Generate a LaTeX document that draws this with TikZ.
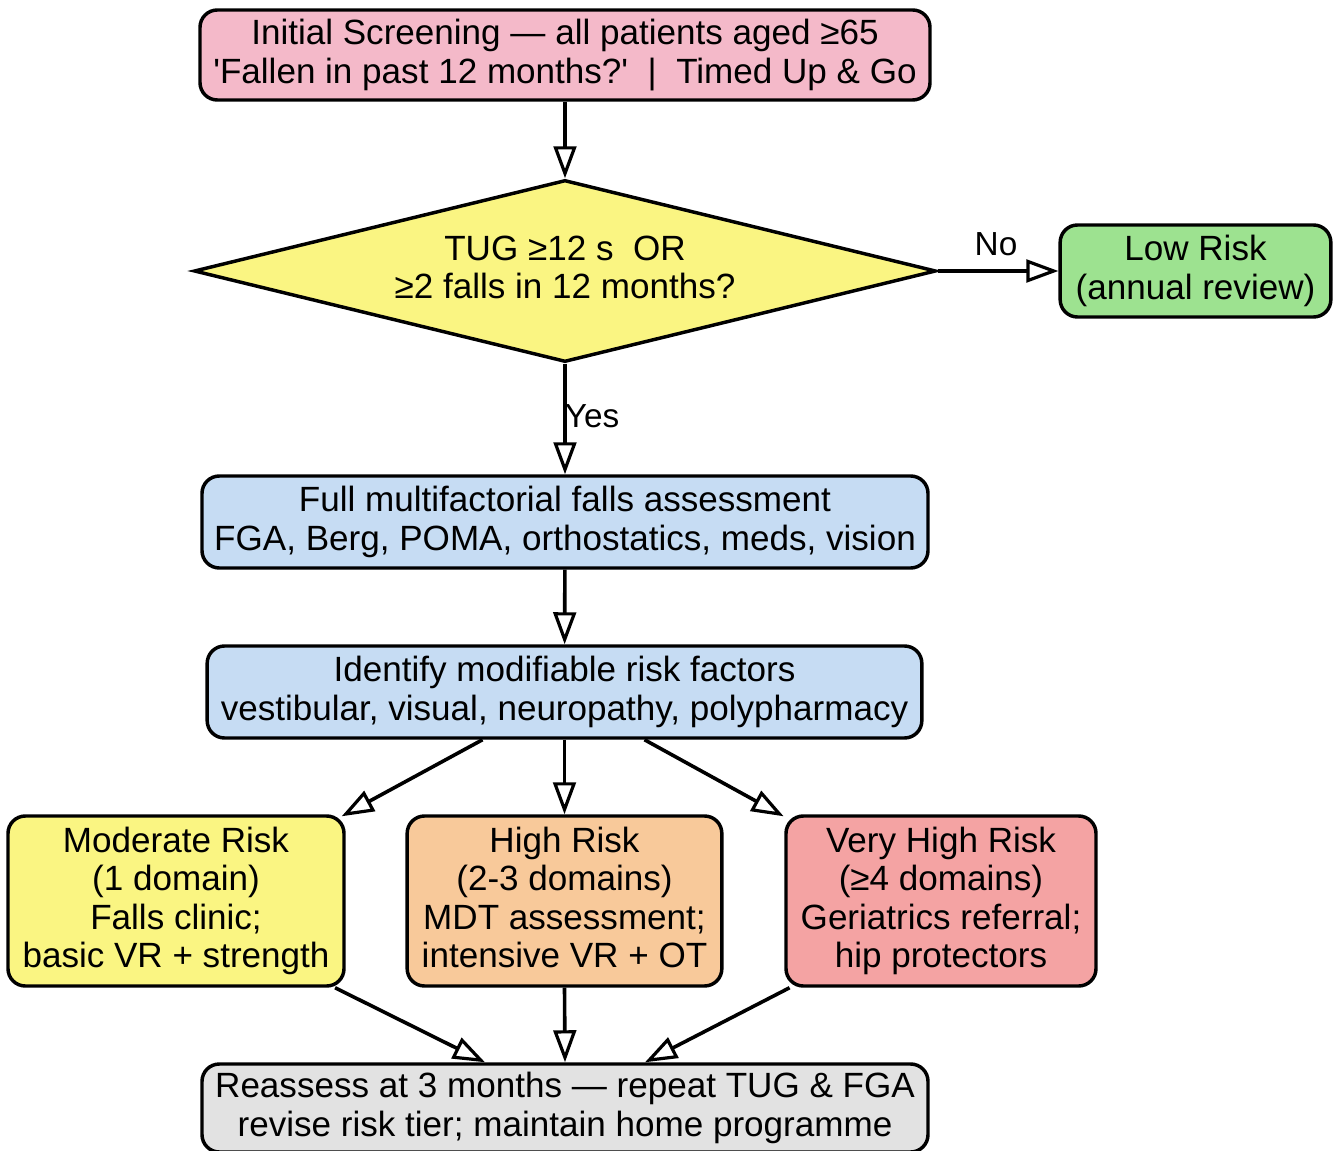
\documentclass[tikz,border=0pt]{standalone}
\usepackage{fontspec}
\setmainfont{Liberation Sans}
\usetikzlibrary{shapes.geometric,arrows.meta}

\definecolor{cpink}{HTML}{F4B9C9}
\definecolor{cyellow}{HTML}{FAF582}
\definecolor{cgreen}{HTML}{9DE290}
\definecolor{cblue}{HTML}{C6DCF3}
\definecolor{corange}{HTML}{F8C99A}
\definecolor{cred}{HTML}{F4A3A3}
\definecolor{cgray}{HTML}{E2E2E2}

\begin{document}
\begin{tikzpicture}[x=0.75pt,y=-0.75pt,
  box/.style={draw=black, line width=2.6pt, rounded corners=13pt,
    inner sep=0pt, align=center, font=\fontsize{26.3}{28.8}\selectfont},
  decision/.style={draw=black, line width=2.6pt, diamond, aspect=4,
    inner sep=0pt, align=center, font=\fontsize{26.3}{28.8}\selectfont},
  flow/.style={line width=2.7pt, -{Triangle[open,length=24pt,width=17pt,line width=2.4pt]}},
  lbl/.style={font=\fontsize{25}{28}\selectfont, inner sep=0pt}]
\useasboundingbox (0,0) rectangle (1338,1151);

% boxes
\node[box, fill=cpink, minimum width=547.5pt, minimum height=67.5pt] (screen) at (565,55)
  {Initial Screening — all patients aged ≥65\\\textquotesingle Fallen in past 12 months?\textquotesingle~~|~~Timed Up \& Go};
\node[decision, fill=cyellow, minimum width=556.5pt, minimum height=136.5pt] (tug) at (565,271)
  {TUG ≥12 s~~OR\\≥2 falls in 12 months?\vphantom{y}};
\node[box, fill=cgreen, minimum width=203pt, minimum height=69pt] (low) at (1195.5,271)
  {Low Risk\\(annual review)};
\node[box, fill=cblue, minimum width=544.5pt, minimum height=69pt] (full) at (565,522)
  {Full multifactorial falls assessment\\FGA, Berg, POMA, orthostatics, meds, vision};
\node[box, fill=cblue, minimum width=536pt, minimum height=69pt] (ident) at (564.5,692)
  {Identify modifiable risk factors\\vestibular, visual, neuropathy, polypharmacy};
\node[box, fill=cyellow, minimum width=252pt, minimum height=127.5pt] (mod) at (176,901)
  {Moderate Risk\\(1 domain)\\Falls clinic;\\basic VR + strength};
\node[box, fill=corange, minimum width=236pt, minimum height=127.5pt] (high) at (564.5,901)
  {High Risk\\(2-3 domains)\\MDT assessment;\\intensive VR + OT\vphantom{y}};
\node[box, fill=cred, minimum width=232.5pt, minimum height=127.5pt] (vhigh) at (941,901)
  {Very High Risk\\(≥4 domains)\\Geriatrics referral;\\hip protectors};
\node[box, fill=cgray, minimum width=544.5pt, minimum height=66pt] (reass) at (565,1108)
  {Reassess at 3 months — repeat TUG \& FGA\\revise risk tier; maintain home programme};

% connectors
\draw[flow] (screen) -- (tug);
\draw[flow] (tug.east) -- (low.west);
\node[lbl] (nolbl) at (996,244) {No};
\draw[flow] (tug.south) -- (full.north);
\node[lbl] (yeslbl) at (592,416) {Yes};
\draw[flow] (full) -- (ident);
\draw[flow] ([xshift=-61.5pt]ident.south) -- ([xshift=-3pt,yshift=-1.5pt]mod.north east);
\draw[flow] (ident.south) -- (high.north);
\draw[flow] ([xshift=60pt]ident.south) -- ([xshift=-0.5pt,yshift=-1.5pt]vhigh.north west);
\draw[flow] ([xshift=-8pt]mod.south east) -- ([xshift=-60pt]reass.north);
\draw[flow] (high.south) -- (reass.north);
\draw[flow] ([xshift=4pt]vhigh.south west) -- ([xshift=60pt]reass.north);
\end{tikzpicture}
\end{document}
